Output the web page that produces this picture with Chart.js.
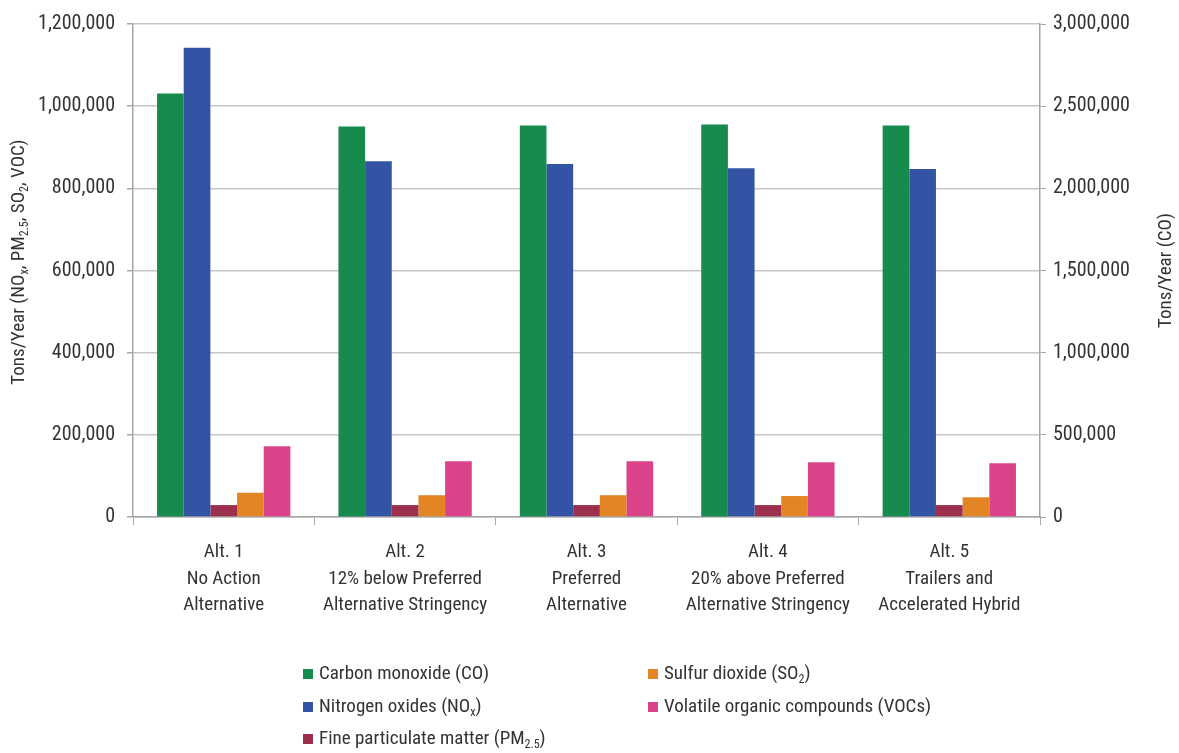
<!DOCTYPE html>
<html>
<head>
<meta charset="utf-8">
<script src="https://cdn.jsdelivr.net/npm/chart.js@4.4.1/dist/chart.umd.min.js"></script>
<style>
  html, body { margin: 0; padding: 0; background: #ffffff; }
  #wrap { position: relative; width: 1179px; height: 753px; }
</style>
</head>
<body>
<div id="wrap"><canvas id="chart"></canvas></div>
<script>
// Annual emissions by alternative (tons/year)
const categories = [
  ['Alt. 1', 'No Action', 'Alternative'],
  ['Alt. 2', '12% below Preferred', 'Alternative Stringency'],
  ['Alt. 3', 'Preferred', 'Alternative'],
  ['Alt. 4', '20% above Preferred', 'Alternative Stringency'],
  ['Alt. 5', 'Trailers and', 'Accelerated Hybrid']
];
const carbonMonoxide = [2577000, 2377000, 2383000, 2389000, 2383000];
const nitrogenOxides = [1142000, 866000, 859000, 849000, 847000];
const fineParticulate = [29000, 29000, 29000, 29000, 29000];
const sulfurDioxide = [59000, 53000, 53000, 51000, 48000];
const volatileOrganics = [172000, 136000, 136000, 133000, 131000];

// Series names; "_{...}" marks a subscript
const seriesNames = [
  'Carbon monoxide (CO)',
  'Nitrogen oxides (NO_{x})',
  'Fine particulate matter (PM_{2.5})',
  'Sulfur dioxide (SO_{2})',
  'Volatile organic compounds (VOCs)'
];
const seriesColors = ['#178a4e', '#3353a4', '#9b2f4d', '#e38524', '#da438a'];

const leftTicks = [0, 200000, 400000, 600000, 800000, 1000000, 1200000];
const rightTicks = [0, 500000, 1000000, 1500000, 2000000, 2500000, 3000000];
const leftTitle = 'Tons/Year (NO_{x}, PM_{2.5}, SO_{2}, VOC)';
const rightTitle = 'Tons/Year (CO)';

const FONT = "'Liberation Sans Narrow', 'Roboto Condensed', 'DejaVu Sans Condensed', 'Arial Narrow', sans-serif";
const TEXT = '#333333';
const AXIS = '#a6a6a6';
const GRID = '#c6c6c6';
const TEXT_SIZE = 19;
const TICK_SIZE = 20;

// Split "_{...}" markup into plain and subscript runs
function parseRich(str) {
  const parts = [];
  const re = /_\{([^}]*)\}/g;
  let last = 0, m;
  while ((m = re.exec(str)) !== null) {
    if (m.index > last) parts.push({ t: str.slice(last, m.index), sub: false });
    parts.push({ t: m[1], sub: true });
    last = re.lastIndex;
  }
  if (last < str.length) parts.push({ t: str.slice(last), sub: false });
  return parts;
}

function richWidth(ctx, parts, size) {
  let w = 0;
  for (const p of parts) {
    ctx.font = (p.sub ? Math.round(size * 0.62) : size) + 'px ' + FONT;
    w += ctx.measureText(p.t).width;
  }
  return w;
}

// Draw rich text with its left end at (x, y), baseline middle
function drawRich(ctx, parts, x, y, size) {
  ctx.textBaseline = 'middle';
  ctx.textAlign = 'left';
  let cx = x;
  for (const p of parts) {
    const s = p.sub ? Math.round(size * 0.62) : size;
    ctx.font = s + 'px ' + FONT;
    ctx.fillText(p.t, cx, p.sub ? y + size * 0.32 : y);
    cx += ctx.measureText(p.t).width;
  }
}

const decorations = {
  id: 'decorations',
  afterDraw(chart) {
    const ctx = chart.ctx;
    const area = chart.chartArea;
    ctx.save();
    ctx.fillStyle = TEXT;

    // Rotated axis titles
    const titles = [
      { parts: parseRich(leftTitle), x: 19, y: 262 },
      { parts: parseRich(rightTitle), x: 1166, y: (area.top + area.bottom) / 2 }
    ];
    for (const t of titles) {
      const w = richWidth(ctx, t.parts, TEXT_SIZE);
      ctx.save();
      ctx.translate(t.x, t.y);
      ctx.rotate(-Math.PI / 2);
      ctx.fillStyle = TEXT;
      drawRich(ctx, t.parts, -w / 2, 0, TEXT_SIZE);
      ctx.restore();
    }

    // Legend in two columns, filled column by column
    const colX = [303, 648];
    const rowY = [674, 707, 739];
    chart.data.datasets.forEach((ds, i) => {
      const col = i < 3 ? 0 : 1;
      const row = i < 3 ? i : i - 3;
      const x = colX[col], y = rowY[row];
      ctx.fillStyle = ds.backgroundColor;
      ctx.fillRect(x, y - 5, 10, 10);
      ctx.fillStyle = TEXT;
      drawRich(ctx, parseRich(seriesNames[i]), x + 16, y, TEXT_SIZE);
    });
    ctx.restore();
  }
};

const fmt = v => v.toLocaleString('en-US');

const datasetValues = [carbonMonoxide, nitrogenOxides, fineParticulate, sulfurDioxide, volatileOrganics];

new Chart(document.getElementById('chart'), {
  type: 'bar',
  data: {
    labels: categories,
    datasets: datasetValues.map((vals, i) => ({
      label: seriesNames[i].replace(/_\{([^}]*)\}/g, '$1'),
      data: vals,
      backgroundColor: seriesColors[i],
      yAxisID: i === 0 ? 'y1' : 'y',
      categoryPercentage: 0.735,
      barPercentage: 1.0,
      borderWidth: 0
    }))
  },
  options: {
    responsive: true,
    maintainAspectRatio: false,
    animation: false,
    layout: { padding: { top: 21, left: 0, right: 0, bottom: 0 } },
    plugins: {
      legend: { display: false },
      tooltip: { enabled: false }
    },
    scales: {
      x: {
        grid: { offset: true, drawOnChartArea: false, drawTicks: true, tickLength: 8, color: AXIS, lineWidth: 1 },
        border: { color: AXIS, width: 1.5 },
        ticks: {
          color: TEXT,
          padding: 14,
          maxRotation: 0,
          autoSkip: false,
          font: { family: FONT, size: TEXT_SIZE, lineHeight: 1.4 }
        },
        afterFit(scale) { scale.height = 236; }
      },
      y: {
        position: 'left',
        min: 0,
        max: 1200000,
        afterBuildTicks(scale) { scale.ticks = leftTicks.map(v => ({ value: v })); },
        grid: { color: GRID, lineWidth: 1.5, tickLength: 6, tickColor: AXIS },
        border: { color: AXIS, width: 1.5 },
        ticks: { color: TEXT, padding: 12, callback: fmt, font: { family: FONT, size: TICK_SIZE } },
        afterFit(scale) { scale.width = 133; }
      },
      y1: {
        position: 'right',
        min: 0,
        max: 3000000,
        afterBuildTicks(scale) { scale.ticks = rightTicks.map(v => ({ value: v })); },
        grid: { drawOnChartArea: false, tickLength: 6, color: AXIS },
        border: { color: AXIS, width: 1.5 },
        ticks: { color: TEXT, padding: 7, callback: fmt, font: { family: FONT, size: TICK_SIZE } },
        afterFit(scale) { scale.width = 139; }
      }
    }
  },
  plugins: [decorations]
});
</script>
</body>
</html>
